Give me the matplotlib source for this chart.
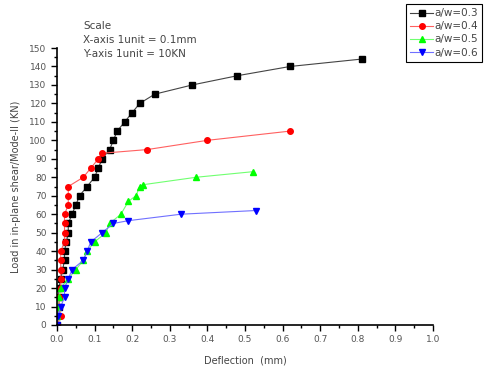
import matplotlib.pyplot as plt
from matplotlib.ticker import MultipleLocator

# a/w = 0.3
x_03 = [0, 0, 0.005, 0.005, 0.005, 0.01, 0.015, 0.02, 0.02, 0.025, 0.03, 0.03, 0.04, 0.05, 0.06,
        0.08, 0.10, 0.11, 0.12, 0.14, 0.15, 0.16, 0.18, 0.20, 0.22, 0.26, 0.36, 0.48, 0.62, 0.81]
y_03 = [0, 5, 10, 15, 20, 25, 30, 35, 40, 45, 50, 55, 60, 65, 70,
        75, 80, 85, 90, 95, 100, 105, 110, 115, 120, 125, 130, 135, 140, 144]
# a/w = 0.4
x_04 = [0, 0.01, 0.005, 0.005, 0.01, 0.01, 0.01, 0.01, 0.01, 0.02, 0.02, 0.02, 0.02, 0.03, 0.03,
        0.03, 0.07, 0.09, 0.11, 0.12, 0.24, 0.40, 0.62]
y_04 = [0, 5, 10, 15, 20, 25, 30, 35, 40, 45, 50, 55, 60, 65, 70,
        75, 80, 85, 90, 93, 95, 100, 105]
# a/w = 0.5
x_05 = [0, 0, 0, 0.005, 0.01, 0.03, 0.05, 0.07, 0.08, 0.10, 0.13, 0.14, 0.17, 0.19, 0.21,
        0.22, 0.23, 0.37, 0.52]
y_05 = [0, 5, 10, 15, 20, 25, 30, 35, 40, 45, 50, 55, 60, 67, 70,
        75, 76, 80, 83]
# a/w = 0.6
x_06 = [0, 0.003, 0.01, 0.02, 0.02, 0.03, 0.04, 0.07, 0.08, 0.09, 0.12, 0.15, 0.19, 0.33, 0.53]
y_06 = [0, 5, 10, 15, 20, 25, 30, 35, 40, 45, 50, 55, 56.5, 60, 62]

series = [
    ("a/w=0.3", x_03, y_03, "s", "#000000", "#444444"),
    ("a/w=0.4", x_04, y_04, "o", "#ff0000", "#ff6060"),
    ("a/w=0.5", x_05, y_05, "^", "#00ff00", "#70ff70"),
    ("a/w=0.6", x_06, y_06, "v", "#0000ff", "#7070ff"),
]

fig = plt.figure(figsize=(4.91, 3.71), dpi=100)
ax = fig.add_axes([57 / 491, 46 / 371, 376 / 491, 277 / 371])

for label, xs, ys, marker, mcolor, lcolor in series:
    ax.plot(xs, ys, color=lcolor, linewidth=0.8, marker=marker, markersize=4,
            markerfacecolor=mcolor, markeredgecolor=mcolor, label=label)

ax.set_xlim(0, 1.0)
ax.set_ylim(0, 150)
ax.xaxis.set_major_locator(MultipleLocator(0.1))
ax.xaxis.set_minor_locator(MultipleLocator(0.05))
ax.yaxis.set_major_locator(MultipleLocator(10))
ax.yaxis.set_minor_locator(MultipleLocator(5))
ax.spines["top"].set_visible(False)
ax.spines["right"].set_visible(False)
ax.spines["left"].set_linewidth(1.2)
ax.spines["bottom"].set_linewidth(1.2)
ax.tick_params(which="major", length=4, width=1, labelsize=6.5, labelcolor="#555555")
ax.tick_params(which="minor", length=2.5, width=1)

ax.set_xlabel("Deflection  (mm)", fontsize=7, color="#444444", labelpad=8)
ax.set_ylabel("Load in in-plane shear/Mode-II (KN)", fontsize=7, color="#444444", labelpad=6)

fig.text(83 / 491, 1 - 40 / 371, "Scale\nX-axis 1unit = 0.1mm\nY-axis 1unit = 10KN",
         fontsize=7.5, color="#444444", va="center", ha="left", linespacing=1.5)

leg = fig.legend(loc="upper left", bbox_to_anchor=(406 / 491, 1 - 4 / 371), fontsize=7.5,
                 frameon=True, fancybox=False, edgecolor="black", framealpha=1,
                 handlelength=2.2, borderpad=0.4, labelspacing=0.3, handletextpad=0.15,
                 borderaxespad=0)
leg.get_frame().set_linewidth(0.8)
for txt in leg.get_texts():
    txt.set_color("#444444")

fig.savefig("out.png", dpi=100)
